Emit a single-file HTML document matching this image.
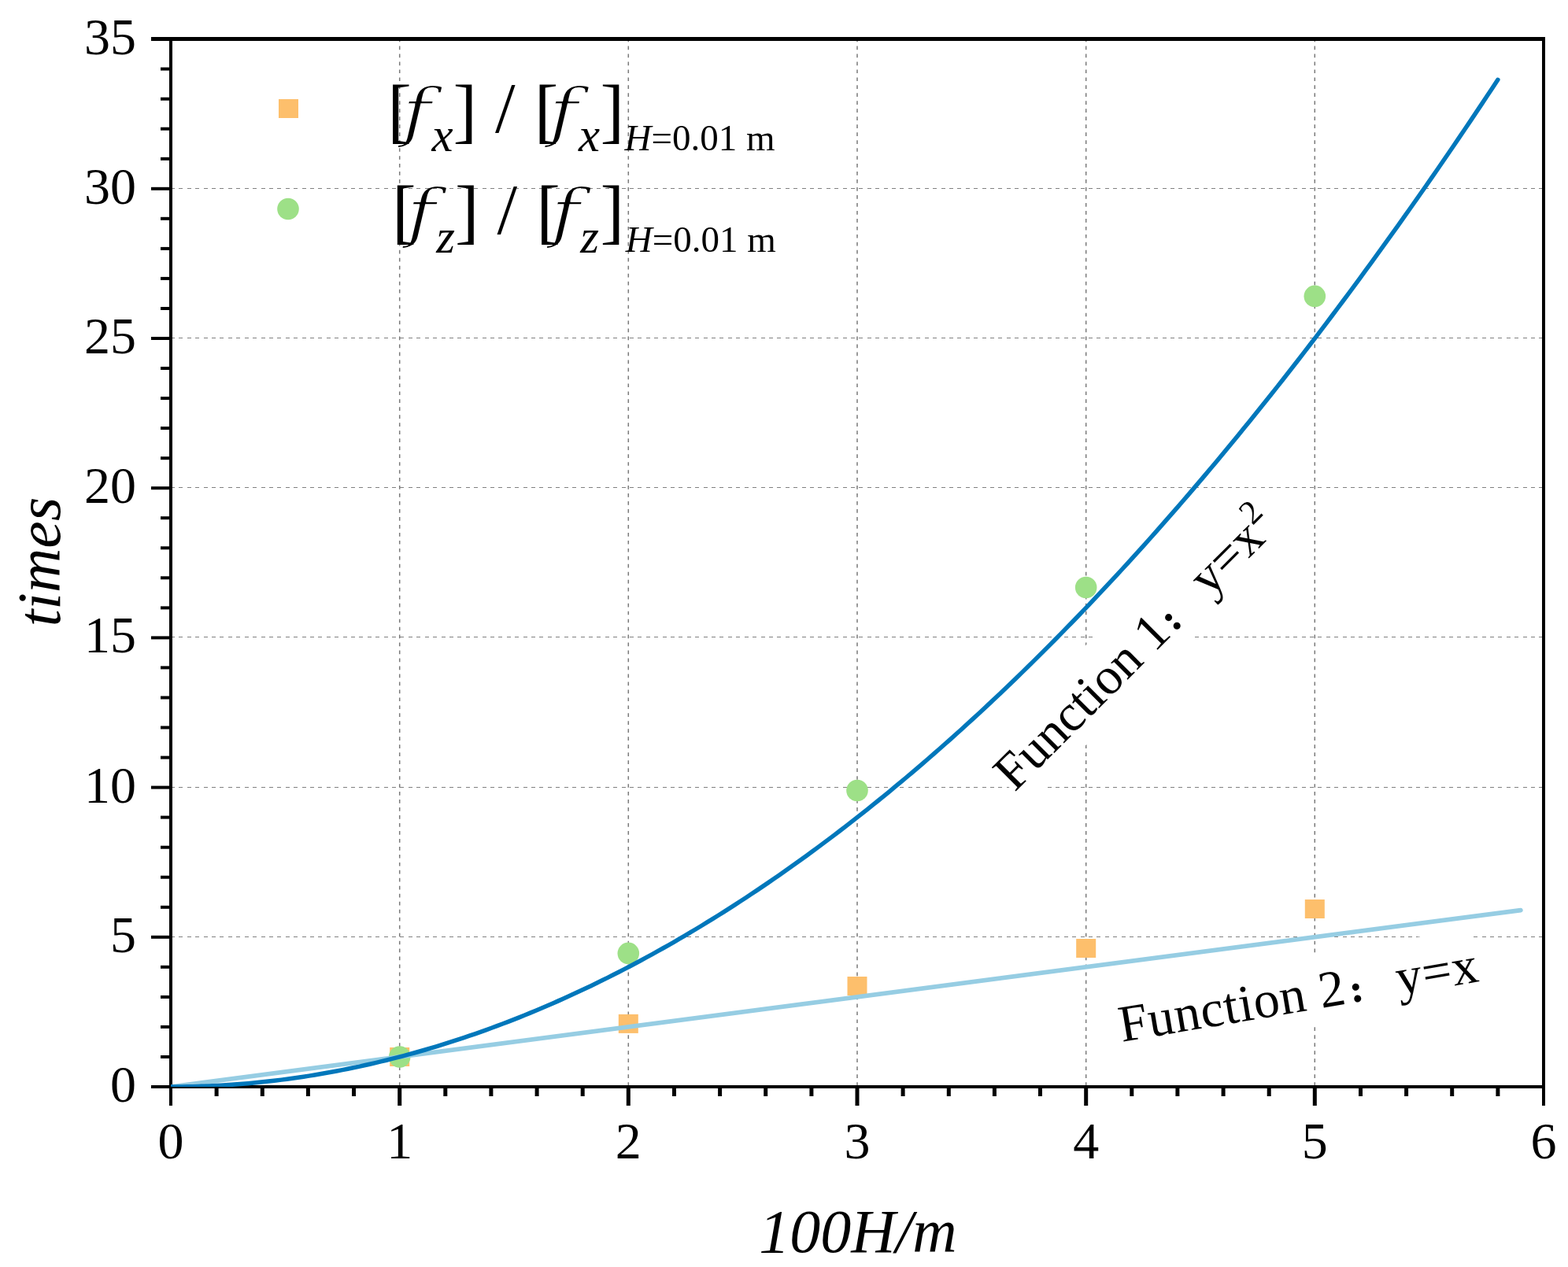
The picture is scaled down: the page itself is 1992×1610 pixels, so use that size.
<!DOCTYPE html><html><head><meta charset="utf-8"><title>chart</title><style>html,body{margin:0;padding:0;background:#fff;overflow:hidden;}svg{display:block;}</style></head><body>
<svg width="1992" height="1610" viewBox="0 0 1992 1610">
<rect x="0" y="0" width="1992" height="1610" fill="#fff"/>
<path d="M217 1190.5H1959 M217 1000.5H1959 M217 809.5H1959 M217 619.5H1959 M217 429.5H1959 M217 239.5H1959" stroke="#808080" stroke-width="1" stroke-dasharray="5 5.41" fill="none" shape-rendering="crispEdges"/>
<path d="M507.7 48.5V1379 M798.3 48.5V1379 M1089.0 48.5V1379 M1379.7 48.5V1379 M1670.3 48.5V1379" stroke="#7a7a7a" stroke-width="1.5" stroke-dasharray="4.7 5.275" fill="none"/>
<g transform="translate(1288.9,1007.3) rotate(-45)"><rect x="0" y="-68.5" width="475" height="89.8" fill="#fff"/><text font-family="Liberation Serif, serif" x="0" y="0" font-size="66">Function 1<tspan font-size="41" dx="6.1" dy="-2.3" stroke="#000" stroke-width="4.2" stroke-linejoin="round">:</tspan><tspan dx="48.5" dy="2.3">y=x</tspan><tspan font-size="43" dy="-26">2</tspan></text></g>
<g transform="translate(1425.2,1323.9) rotate(-9.6)"><rect x="0" y="-68.5" width="461" height="89.8" fill="#fff"/><text font-family="Liberation Serif, serif" x="0" y="0" font-size="66" letter-spacing="0.7">Function 2<tspan font-size="41" dx="7.6" dy="-2.3" stroke="#000" stroke-width="4.2" stroke-linejoin="round">:</tspan><tspan dx="46" dy="2.3">y=x</tspan></text></g>
<rect x="495.2" y="1331.0" width="25" height="24" fill="#FDBF6C"/>
<rect x="785.8" y="1288.9" width="25" height="24" fill="#FDBF6C"/>
<rect x="1076.5" y="1241.0" width="25" height="24" fill="#FDBF6C"/>
<rect x="1367.2" y="1193.0" width="25" height="24" fill="#FDBF6C"/>
<rect x="1657.8" y="1143.0" width="25" height="24" fill="#FDBF6C"/>
<circle cx="507.7" cy="1343.0" r="13.8" fill="#9DE087"/>
<circle cx="798.3" cy="1211.4" r="13.8" fill="#9DE087"/>
<circle cx="1089.0" cy="1004.5" r="13.8" fill="#9DE087"/>
<circle cx="1379.7" cy="746.5" r="13.8" fill="#9DE087"/>
<circle cx="1670.3" cy="376.4" r="13.8" fill="#9DE087"/>
<rect x="192" y="47" width="1771" height="5" fill="#000"/><rect x="192" y="1379" width="1771" height="4" fill="#000"/><rect x="215" y="47" width="4" height="1358" fill="#000"/><rect x="1959" y="47" width="4" height="1358" fill="#000"/><rect x="204" y="1341.0" width="13" height="4" fill="#000"/><rect x="204" y="1302.9" width="13" height="4" fill="#000"/><rect x="204" y="1264.9" width="13" height="4" fill="#000"/><rect x="204" y="1226.8" width="13" height="4" fill="#000"/><rect x="192" y="1188.8" width="25" height="4" fill="#000"/><rect x="204" y="1150.8" width="13" height="4" fill="#000"/><rect x="204" y="1112.7" width="13" height="4" fill="#000"/><rect x="204" y="1074.7" width="13" height="4" fill="#000"/><rect x="204" y="1036.6" width="13" height="4" fill="#000"/><rect x="192" y="998.6" width="25" height="4" fill="#000"/><rect x="204" y="960.6" width="13" height="4" fill="#000"/><rect x="204" y="922.5" width="13" height="4" fill="#000"/><rect x="204" y="884.5" width="13" height="4" fill="#000"/><rect x="204" y="846.4" width="13" height="4" fill="#000"/><rect x="192" y="808.4" width="25" height="4" fill="#000"/><rect x="204" y="770.4" width="13" height="4" fill="#000"/><rect x="204" y="732.3" width="13" height="4" fill="#000"/><rect x="204" y="694.3" width="13" height="4" fill="#000"/><rect x="204" y="656.2" width="13" height="4" fill="#000"/><rect x="192" y="618.2" width="25" height="4" fill="#000"/><rect x="204" y="580.2" width="13" height="4" fill="#000"/><rect x="204" y="542.1" width="13" height="4" fill="#000"/><rect x="204" y="504.1" width="13" height="4" fill="#000"/><rect x="204" y="466.0" width="13" height="4" fill="#000"/><rect x="192" y="428.0" width="25" height="4" fill="#000"/><rect x="204" y="390.0" width="13" height="4" fill="#000"/><rect x="204" y="351.9" width="13" height="4" fill="#000"/><rect x="204" y="313.9" width="13" height="4" fill="#000"/><rect x="204" y="275.8" width="13" height="4" fill="#000"/><rect x="192" y="237.8" width="25" height="4" fill="#000"/><rect x="204" y="199.8" width="13" height="4" fill="#000"/><rect x="204" y="161.7" width="13" height="4" fill="#000"/><rect x="204" y="123.7" width="13" height="4" fill="#000"/><rect x="204" y="85.6" width="13" height="4" fill="#000"/><rect x="272.6" y="1383" width="5" height="10" fill="#000"/><rect x="330.8" y="1383" width="5" height="10" fill="#000"/><rect x="388.9" y="1383" width="5" height="10" fill="#000"/><rect x="447.0" y="1383" width="5" height="10" fill="#000"/><rect x="505.2" y="1383" width="5" height="22" fill="#000"/><rect x="563.3" y="1383" width="5" height="10" fill="#000"/><rect x="621.4" y="1383" width="5" height="10" fill="#000"/><rect x="679.6" y="1383" width="5" height="10" fill="#000"/><rect x="737.7" y="1383" width="5" height="10" fill="#000"/><rect x="795.8" y="1383" width="5" height="22" fill="#000"/><rect x="854.0" y="1383" width="5" height="10" fill="#000"/><rect x="912.1" y="1383" width="5" height="10" fill="#000"/><rect x="970.2" y="1383" width="5" height="10" fill="#000"/><rect x="1028.4" y="1383" width="5" height="10" fill="#000"/><rect x="1086.5" y="1383" width="5" height="22" fill="#000"/><rect x="1144.6" y="1383" width="5" height="10" fill="#000"/><rect x="1202.8" y="1383" width="5" height="10" fill="#000"/><rect x="1260.9" y="1383" width="5" height="10" fill="#000"/><rect x="1319.0" y="1383" width="5" height="10" fill="#000"/><rect x="1377.2" y="1383" width="5" height="22" fill="#000"/><rect x="1435.3" y="1383" width="5" height="10" fill="#000"/><rect x="1493.4" y="1383" width="5" height="10" fill="#000"/><rect x="1551.6" y="1383" width="5" height="10" fill="#000"/><rect x="1609.7" y="1383" width="5" height="10" fill="#000"/><rect x="1667.8" y="1383" width="5" height="22" fill="#000"/><rect x="1726.0" y="1383" width="5" height="10" fill="#000"/><rect x="1784.1" y="1383" width="5" height="10" fill="#000"/><rect x="1842.2" y="1383" width="5" height="10" fill="#000"/><rect x="1900.4" y="1383" width="5" height="10" fill="#000"/>
<defs><clipPath id="pc"><rect x="217" y="49.5" width="1744" height="1331.5"/></clipPath></defs><g clip-path="url(#pc)">
<polyline points="217.00,1381.00 1931.93,1156.56" stroke="#96CDE3" stroke-width="5.7" fill="none" stroke-linecap="round"/>
<polyline points="217.00,1381.00 224.02,1380.98 231.05,1380.91 238.07,1380.80 245.10,1380.64 252.12,1380.44 259.15,1380.20 266.17,1379.91 273.20,1379.58 280.22,1379.20 287.24,1378.78 294.27,1378.31 301.29,1377.80 308.32,1377.25 315.34,1376.65 322.37,1376.00 329.39,1375.31 336.42,1374.58 343.44,1373.80 350.46,1372.98 357.49,1372.11 364.51,1371.20 371.54,1370.25 378.56,1369.25 385.59,1368.20 392.61,1367.11 399.64,1365.98 406.66,1364.80 413.68,1363.58 420.71,1362.32 427.73,1361.01 434.76,1359.65 441.78,1358.25 448.81,1356.81 455.83,1355.32 462.86,1353.78 469.88,1352.21 476.90,1350.59 483.93,1348.92 490.95,1347.21 497.98,1345.45 505.00,1343.65 512.03,1341.81 519.05,1339.92 526.08,1337.99 533.10,1336.01 540.12,1333.99 547.15,1331.92 554.17,1329.81 561.20,1327.66 568.22,1325.46 575.25,1323.22 582.27,1320.93 589.30,1318.59 596.32,1316.22 603.34,1313.80 610.37,1311.33 617.39,1308.82 624.42,1306.26 631.44,1303.66 638.47,1301.02 645.49,1298.33 652.52,1295.60 659.54,1292.82 666.56,1290.00 673.59,1287.14 680.61,1284.23 687.64,1281.27 694.66,1278.27 701.69,1275.23 708.71,1272.14 715.74,1269.01 722.76,1265.83 729.78,1262.61 736.81,1259.34 743.83,1256.03 750.86,1252.68 757.88,1249.28 764.91,1245.84 771.93,1242.35 778.96,1238.81 785.98,1235.24 793.00,1231.62 800.03,1227.95 807.05,1224.24 814.08,1220.49 821.10,1216.69 828.13,1212.84 835.15,1208.96 842.18,1205.02 849.20,1201.05 856.22,1197.03 863.25,1192.96 870.27,1188.85 877.30,1184.70 884.32,1180.50 891.35,1176.25 898.37,1171.97 905.40,1167.63 912.42,1163.26 919.44,1158.84 926.47,1154.37 933.49,1149.86 940.52,1145.31 947.54,1140.71 954.57,1136.06 961.59,1131.38 968.62,1126.64 975.64,1121.87 982.66,1117.05 989.69,1112.18 996.71,1107.27 1003.74,1102.32 1010.76,1097.32 1017.79,1092.28 1024.81,1087.19 1031.84,1082.06 1038.86,1076.88 1045.88,1071.66 1052.91,1066.39 1059.93,1061.08 1066.96,1055.73 1073.98,1050.33 1081.01,1044.89 1088.03,1039.40 1095.06,1033.87 1102.08,1028.29 1109.10,1022.67 1116.13,1017.01 1123.15,1011.30 1130.18,1005.54 1137.20,999.74 1144.23,993.90 1151.25,988.01 1158.28,982.08 1165.30,976.11 1172.32,970.09 1179.35,964.02 1186.37,957.91 1193.40,951.76 1200.42,945.56 1207.45,939.32 1214.47,933.03 1221.50,926.70 1228.52,920.32 1235.54,913.90 1242.57,907.43 1249.59,900.93 1256.62,894.37 1263.64,887.77 1270.67,881.13 1277.69,874.44 1284.72,867.71 1291.74,860.94 1298.76,854.12 1305.79,847.25 1312.81,840.34 1319.84,833.39 1326.86,826.39 1333.89,819.35 1340.91,812.26 1347.94,805.13 1354.96,797.95 1361.98,790.73 1369.01,783.47 1376.03,776.16 1383.06,768.80 1390.08,761.41 1397.11,753.96 1404.13,746.48 1411.16,738.95 1418.18,731.37 1425.20,723.75 1432.23,716.08 1439.25,708.38 1446.28,700.62 1453.30,692.82 1460.33,684.98 1467.35,677.10 1474.38,669.16 1481.40,661.19 1488.42,653.17 1495.45,645.10 1502.47,636.99 1509.50,628.84 1516.52,620.64 1523.55,612.40 1530.57,604.11 1537.60,595.78 1544.62,587.41 1551.64,578.99 1558.67,570.52 1565.69,562.01 1572.72,553.46 1579.74,544.86 1586.77,536.22 1593.79,527.53 1600.82,518.80 1607.84,510.03 1614.86,501.21 1621.89,492.34 1628.91,483.43 1635.94,474.48 1642.96,465.48 1649.99,456.44 1657.01,447.36 1664.04,438.22 1671.06,429.05 1678.08,419.83 1685.11,410.56 1692.13,401.26 1699.16,391.90 1706.18,382.51 1713.21,373.06 1720.23,363.58 1727.26,354.05 1734.28,344.47 1741.30,334.85 1748.33,325.19 1755.35,315.48 1762.38,305.73 1769.40,295.93 1776.43,286.09 1783.45,276.20 1790.48,266.27 1797.50,256.29 1804.52,246.27 1811.55,236.21 1818.57,226.10 1825.60,215.95 1832.62,205.75 1839.65,195.51 1846.67,185.22 1853.70,174.89 1860.72,164.52 1867.74,154.10 1874.77,143.63 1881.79,133.13 1888.82,122.57 1895.84,111.98 1902.87,101.33" stroke="#0077BB" stroke-width="5.5" fill="none" stroke-linejoin="round" stroke-linecap="round"/>
</g>
<text font-family="Liberation Serif, serif" x="173" y="1400.0" font-size="66" text-anchor="end">0</text>
<text font-family="Liberation Serif, serif" x="173" y="1209.8" font-size="66" text-anchor="end">5</text>
<text font-family="Liberation Serif, serif" x="173" y="1019.6" font-size="66" text-anchor="end">10</text>
<text font-family="Liberation Serif, serif" x="173" y="829.4" font-size="66" text-anchor="end">15</text>
<text font-family="Liberation Serif, serif" x="173" y="639.2" font-size="66" text-anchor="end">20</text>
<text font-family="Liberation Serif, serif" x="173" y="449.0" font-size="66" text-anchor="end">25</text>
<text font-family="Liberation Serif, serif" x="173" y="258.8" font-size="66" text-anchor="end">30</text>
<text font-family="Liberation Serif, serif" x="173" y="68.6" font-size="66" text-anchor="end">35</text>
<text font-family="Liberation Serif, serif" x="217.0" y="1472.4" font-size="66" text-anchor="middle">0</text>
<text font-family="Liberation Serif, serif" x="507.7" y="1472.4" font-size="66" text-anchor="middle">1</text>
<text font-family="Liberation Serif, serif" x="798.3" y="1472.4" font-size="66" text-anchor="middle">2</text>
<text font-family="Liberation Serif, serif" x="1089.0" y="1472.4" font-size="66" text-anchor="middle">3</text>
<text font-family="Liberation Serif, serif" x="1379.7" y="1472.4" font-size="66" text-anchor="middle">4</text>
<text font-family="Liberation Serif, serif" x="1670.3" y="1472.4" font-size="66" text-anchor="middle">5</text>
<text font-family="Liberation Serif, serif" x="1961.0" y="1472.4" font-size="66" text-anchor="middle">6</text>
<text font-family="Liberation Serif, serif" x="1090" y="1591" font-size="78" font-style="italic" text-anchor="middle">100H/m</text>
<text font-family="Liberation Serif, serif" transform="translate(75.5,714) rotate(-90)" font-size="78" font-style="italic" text-anchor="middle">times</text>
<defs><filter id="thin" x="-20%" y="-20%" width="140%" height="140%"><feMorphology operator="erode" radius="0.75"/></filter></defs>
<rect x="354" y="126" width="25" height="24" fill="#FDBF6C"/>
<circle cx="366" cy="265.5" r="13.8" fill="#9DE087"/>
<text font-family="Liberation Serif, serif" x="492.2" y="170.5" font-size="92">[</text><text transform="translate(510.8,170.5) scale(1.22,1)" font-size="82" font-family="DejaVu Serif, serif" font-style="italic" filter="url(#thin)">f</text><text font-family="Liberation Serif, serif" x="548.4" y="192.0" font-size="61" font-style="italic">x<tspan font-size="92" font-style="normal" dy="-21.5">] </tspan><tspan font-size="92" font-style="normal" dy="-2.5">/</tspan><tspan font-size="92" font-style="normal" dy="2.5"> </tspan><tspan font-size="92" font-style="normal" dx="1">[</tspan></text><text transform="translate(697.3,170.5) scale(1.22,1)" font-size="82" font-family="DejaVu Serif, serif" font-style="italic" filter="url(#thin)">f</text><text font-family="Liberation Serif, serif" x="734.9" y="192.0" font-size="61" font-style="italic">x<tspan font-size="92" font-style="normal" dy="-21.5" dx="0.5">]</tspan><tspan font-size="47" font-style="normal" dy="20.6" dx="0.5"><tspan font-style="italic">H</tspan>=0.01 m</tspan></text>
<text font-family="Liberation Serif, serif" x="498.0" y="299.3" font-size="92">[</text><text transform="translate(516.6,299.3) scale(1.22,1)" font-size="82" font-family="DejaVu Serif, serif" font-style="italic" filter="url(#thin)">f</text><text font-family="Liberation Serif, serif" x="554.2" y="320.8" font-size="61" font-style="italic">z<tspan font-size="92" font-style="normal" dy="-21.5">] </tspan><tspan font-size="92" font-style="normal" dy="-2.5">/</tspan><tspan font-size="92" font-style="normal" dy="2.5"> </tspan><tspan font-size="92" font-style="normal" dx="1">[</tspan></text><text transform="translate(699.8,299.3) scale(1.22,1)" font-size="82" font-family="DejaVu Serif, serif" font-style="italic" filter="url(#thin)">f</text><text font-family="Liberation Serif, serif" x="737.3" y="320.8" font-size="61" font-style="italic">z<tspan font-size="92" font-style="normal" dy="-21.5" dx="1.5">]</tspan><tspan font-size="47" font-style="normal" dy="20.6" dx="1.5"><tspan font-style="italic">H</tspan>=0.01 m</tspan></text>
</svg></body></html>
